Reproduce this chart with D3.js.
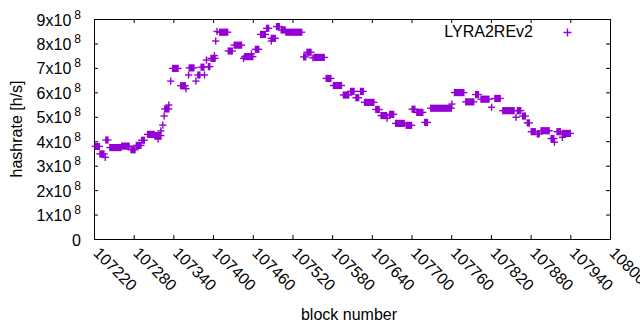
<!DOCTYPE html>
<html>
<head>
<meta charset="utf-8">
<script src="https://cdn.jsdelivr.net/npm/d3@7/dist/d3.min.js"></script>
<style>
body{margin:0;background:#fff}
text{font-family:"Liberation Sans",Arial,sans-serif;fill:#000}
</style>
</head>
<body>
<svg id="chart"></svg>
<script>
var width = 640;
var height = 330;
var margin = {top:19,left:94,right:30,bottom:91};

// runs of consecutive blocks that share the same hashrate value
var runFirst = [107222,107229,107237,107238,107244,107262,107276,107284,107292,107301,
                107312,107317,107321,107324,107326,107327,107333,107336,107339,107351,
                107359,107363,107364,107374,107377,107382,107387,107390,107393,107397,
                107402,107404,107406,107410,107423,107432,107446,107448,107458,107464,
                107472,107481,107488,107488,107496,107503,107510,107537,107542,107551,
                107553,107571,107582,107597,107608,107616,107623,107629,107646,107654,
                107663,107667,107676,107692,107701,107708,107720,107729,107761,107765,
                107782,107797,107805,107821,107826,107838,107858,107860,107868,107875,
                107881,107890,107896,107911,107916,107920,107928,107928];
var runLast  = [107228,107235,107237,107241,107261,107273,107282,107291,107296,107311,
                107321,107317,107321,107324,107326,107333,107333,107336,107347,107358,
                107359,107363,107371,107374,107380,107386,107387,107390,107395,107403,
                107402,107404,107406,107422,107429,107443,107446,107460,107458,107469,
                107479,107484,107494,107488,107500,107509,107534,107540,107548,107551,
                107568,107578,107594,107605,107613,107620,107627,107643,107651,107662,
                107663,107673,107689,107700,107705,107717,107724,107760,107761,107779,
                107794,107801,107817,107821,107834,107855,107858,107865,107872,107878,
                107887,107893,107908,107915,107916,107925,107940,107928];
var runRate  = [3.79e8,3.48e8,3.34e8,4.05e8,3.74e8,3.80e8,3.65e8,3.83e8,4.04e8,4.28e8,
                4.23e8,4.09e8,4.42e8,4.66e8,5.03e8,5.32e8,5.48e8,6.46e8,6.98e8,6.27e8,
                6.15e8,6.71e8,7.00e8,6.46e8,6.71e8,7.03e8,6.71e8,7.32e8,7.05e8,7.39e8,
                7.50e8,8.10e8,8.49e8,8.46e8,7.69e8,7.93e8,7.39e8,7.46e8,7.57e8,7.76e8,
                8.37e8,8.62e8,8.21e8,8.10e8,8.69e8,8.55e8,8.46e8,7.45e8,7.64e8,7.41e8,
                7.43e8,6.57e8,6.28e8,5.89e8,6.04e8,5.78e8,6.04e8,5.59e8,5.30e8,5.05e8,
                4.94e8,5.10e8,4.73e8,4.65e8,5.31e8,5.18e8,4.77e8,5.35e8,5.52e8,5.99e8,
                5.61e8,5.91e8,5.72e8,5.39e8,5.75e8,5.25e8,4.98e8,5.25e8,5.03e8,4.75e8,
                4.39e8,4.30e8,4.43e8,4.11e8,3.96e8,4.39e8,4.32e8,4.16e8];

var xTicks = [107220,107280,107340,107400,107460,107520,107580,107640,107700,107760,107820,107880,107940,108000];
var yTicks = [0,1e8,2e8,3e8,4e8,5e8,6e8,7e8,8e8,9e8];
var seriesName = "LYRA2REv2";
var color = "#9400d3";

var arm = 3.6;   // half length of a plus
var sw = 1.4;    // plus stroke width

var svg = d3.select('#chart').attr('width',width).attr('height',height);

var x = d3.scaleLinear().domain([107220,108000]).range([margin.left,width-margin.right]);
var y = d3.scaleLinear().domain([0,9e8]).range([height-margin.bottom,margin.top]);

// axes, ticks point inward and are mirrored
var xaxis = d3.axisBottom(x).tickValues(xTicks).tickFormat(d3.format('d'))
              .tickSizeInner(-4).tickSizeOuter(0).tickPadding(0);
var yaxis = d3.axisLeft(y).tickValues(yTicks).tickSizeInner(-4).tickSizeOuter(0).tickPadding(13);

var gx = svg.append('g').attr('transform','translate(0,'+(height-margin.bottom)+')').call(xaxis);
var gy = svg.append('g').attr('transform','translate('+margin.left+',0)').call(yaxis);
svg.append('g').attr('transform','translate(0,'+margin.top+')')
   .call(d3.axisTop(x).tickValues(xTicks).tickSizeInner(-4).tickSizeOuter(0).tickFormat(''));
svg.append('g').attr('transform','translate('+(width-margin.right)+',0)')
   .call(d3.axisRight(y).tickValues(yTicks).tickSizeInner(-4).tickSizeOuter(0).tickFormat(''));

svg.selectAll('.domain').remove();
svg.selectAll('.tick line').attr('stroke','#000');

gx.selectAll('text')
  .attr('x',null).attr('y',null).attr('dy','0.35em')
  .attr('transform','translate(2,11) rotate(45)')
  .attr('text-anchor','start')
  .attr('font-size',16);

gy.selectAll('text').each(function(d){
  var t = d3.select(this).text(null).attr('font-size',16).attr('dy','0.38em');
  if(d === 0){ t.append('tspan').text('0'); return; }
  t.append('tspan').text((d/1e8)+'x10');
  t.append('tspan').attr('dx',3).attr('dy',-7).attr('font-size',12).text('8');
});

// frame
svg.append('rect')
   .attr('x',margin.left+0.5).attr('y',margin.top+0.5)
   .attr('width',width-margin.left-margin.right)
   .attr('height',height-margin.top-margin.bottom)
   .attr('fill','none').attr('stroke','#000').attr('stroke-width',1);

// points: consecutive plus marks of a run merge into one shape
var rows = runRate.map(function(v,i){ return {first:runFirst[i], last:runLast[i], rate:v}; });
var pts = svg.append('g').selectAll('g').data(rows).enter().append('g');
pts.append('rect')
   .attr('x',function(d){ return x(d.first)-sw/2; })
   .attr('y',function(d){ return y(d.rate)-arm; })
   .attr('width',function(d){ return x(d.last)-x(d.first)+sw; })
   .attr('height',2*arm)
   .attr('fill',color);
pts.append('rect')
   .attr('x',function(d){ return x(d.first)-arm; })
   .attr('y',function(d){ return y(d.rate)-sw/2; })
   .attr('width',function(d){ return x(d.last)-x(d.first)+2*arm; })
   .attr('height',sw)
   .attr('fill',color);

// legend
var lg = svg.append('g');
lg.append('text').attr('x',533).attr('y',37).attr('text-anchor','end').attr('font-size',16).text(seriesName);
lg.append('path').attr('d','M563.5,32.5H571.5M567.5,28.5V36.5').attr('stroke',color).attr('stroke-width',sw).attr('fill','none');

// axis titles
svg.append('text').attr('transform','translate(22,129) rotate(-90)').attr('text-anchor','middle')
   .attr('font-size',16).text('hashrate [h/s]');
svg.append('text').attr('x',349).attr('y',320).attr('text-anchor','middle')
   .attr('font-size',16).text('block number');
</script>
</body>
</html>
